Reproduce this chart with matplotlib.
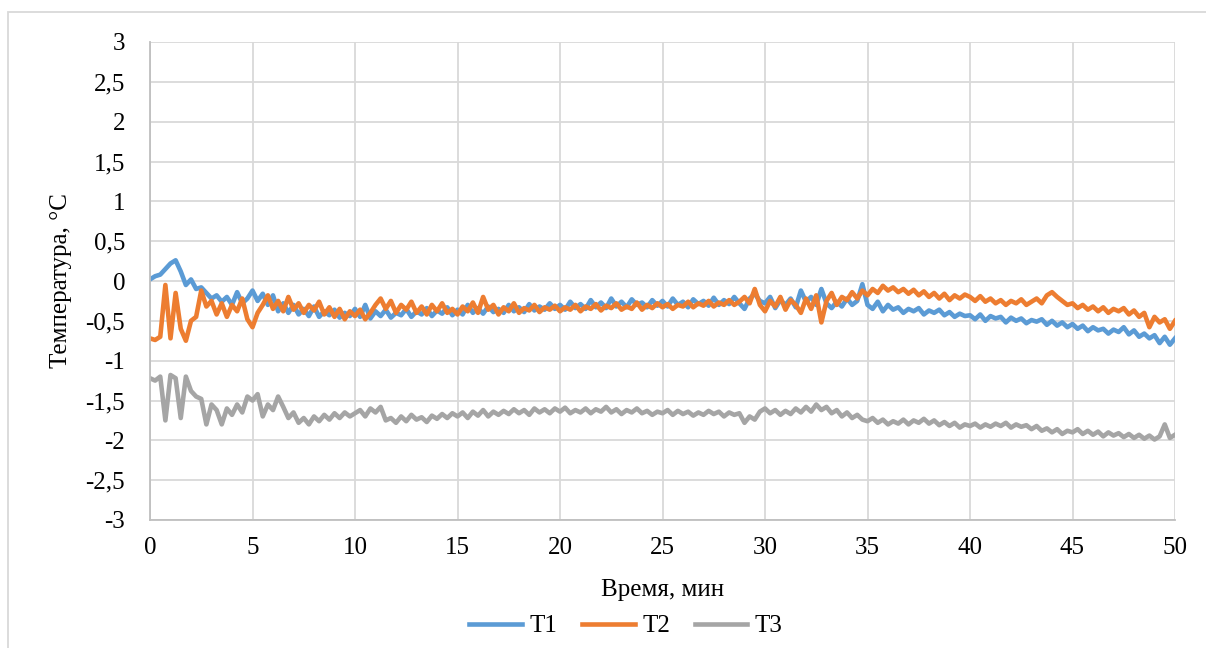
import matplotlib
matplotlib.use("Agg")
import matplotlib.pyplot as plt
import numpy as np
from matplotlib.ticker import FuncFormatter, MultipleLocator
from matplotlib.patches import Rectangle

plt.rcParams['font.family'] = ['Liberation Serif', 'DejaVu Serif']
plt.rcParams['axes.unicode_minus'] = False

time_step = 0.25
time_min = [i * time_step for i in range(201)]

T1 = [0.02, 0.06, 0.08, 0.15, 0.22, 0.26, 0.12, -0.05, 0.02, -0.1, -0.08, -0.15, -0.22, -0.18, -0.26, -0.2, -0.3, -0.14, -0.28, -0.22,
      -0.12, -0.25, -0.16, -0.3, -0.18, -0.38, -0.28, -0.4, -0.3, -0.42, -0.35, -0.44, -0.32, -0.45, -0.38, -0.43, -0.36, -0.46, -0.4, -0.44,
      -0.35, -0.45, -0.3, -0.47, -0.38, -0.44, -0.36, -0.46, -0.4, -0.43, -0.35, -0.45, -0.38, -0.42, -0.34, -0.44, -0.37, -0.41, -0.33, -0.43,
      -0.36, -0.42, -0.3, -0.4, -0.34, -0.41, -0.32, -0.39, -0.35, -0.4, -0.3, -0.38, -0.33, -0.39, -0.29, -0.37, -0.32, -0.36, -0.28, -0.35,
      -0.3, -0.36, -0.26, -0.34, -0.29, -0.35, -0.24, -0.33, -0.27, -0.34, -0.22, -0.32, -0.26, -0.33, -0.23, -0.3, -0.27, -0.33, -0.24, -0.31,
      -0.25, -0.32, -0.22, -0.3, -0.26, -0.33, -0.23, -0.29, -0.25, -0.31, -0.21, -0.3, -0.24, -0.29, -0.2, -0.28, -0.35, -0.22, -0.16, -0.25,
      -0.28, -0.2, -0.34, -0.24, -0.3, -0.22, -0.33, -0.12, -0.26, -0.2, -0.3, -0.1, -0.28, -0.34, -0.26, -0.32, -0.22, -0.3, -0.25, -0.04,
      -0.3, -0.35, -0.26, -0.38, -0.3, -0.36, -0.33, -0.4, -0.35, -0.38, -0.34, -0.42, -0.37, -0.4, -0.36, -0.43, -0.39, -0.45, -0.41, -0.44,
      -0.43, -0.48, -0.42, -0.5, -0.44, -0.47, -0.45, -0.52, -0.46, -0.5, -0.47, -0.53, -0.49, -0.51, -0.48, -0.55, -0.5, -0.56, -0.52, -0.58,
      -0.54, -0.6, -0.56, -0.63, -0.58, -0.62, -0.6, -0.66, -0.61, -0.64, -0.58, -0.67, -0.62, -0.7, -0.66, -0.72, -0.68, -0.78, -0.7, -0.8, -0.72]

T2 = [-0.72, -0.74, -0.7, -0.05, -0.72, -0.15, -0.6, -0.75, -0.5, -0.45, -0.12, -0.32, -0.25, -0.42, -0.28, -0.45, -0.3, -0.38, -0.22, -0.48,
      -0.58, -0.4, -0.3, -0.18, -0.35, -0.25, -0.38, -0.2, -0.36, -0.28, -0.4, -0.3, -0.37, -0.26, -0.42, -0.33, -0.45, -0.35, -0.48, -0.38,
      -0.44, -0.36, -0.48, -0.4, -0.3, -0.22, -0.35, -0.25, -0.4, -0.3, -0.36, -0.26, -0.4, -0.32, -0.42, -0.3, -0.38, -0.28, -0.4, -0.35,
      -0.42, -0.32, -0.38, -0.27, -0.4, -0.2, -0.36, -0.3, -0.42, -0.33, -0.38, -0.28, -0.4, -0.34, -0.37, -0.3, -0.39, -0.33, -0.36, -0.31,
      -0.38, -0.33, -0.36, -0.3, -0.38, -0.32, -0.35, -0.29, -0.37, -0.31, -0.34, -0.28, -0.36, -0.32, -0.35, -0.27, -0.36, -0.3, -0.34, -0.28,
      -0.33, -0.29, -0.35, -0.3, -0.32, -0.26, -0.33, -0.28, -0.31, -0.25, -0.32, -0.27, -0.3, -0.24, -0.3, -0.26, -0.2, -0.28, -0.1, -0.3,
      -0.38, -0.25, -0.32, -0.2, -0.36, -0.24, -0.3, -0.4, -0.22, -0.35, -0.18, -0.52, -0.25, -0.15, -0.3, -0.2, -0.24, -0.14, -0.22, -0.12,
      -0.18, -0.1, -0.15, -0.06, -0.12, -0.08, -0.14, -0.1, -0.16, -0.11, -0.18, -0.13, -0.2, -0.15, -0.22, -0.16, -0.24, -0.18, -0.22, -0.17,
      -0.2, -0.25, -0.19, -0.26, -0.22, -0.28, -0.24, -0.3, -0.25, -0.28, -0.23, -0.3, -0.26, -0.22, -0.28, -0.18, -0.14, -0.2, -0.25, -0.3,
      -0.28, -0.34, -0.3, -0.36, -0.32, -0.38, -0.33, -0.4, -0.35, -0.38, -0.34, -0.42, -0.37, -0.45, -0.4, -0.58, -0.45, -0.52, -0.48, -0.6, -0.5]

T3 = [-1.22, -1.25, -1.2, -1.75, -1.18, -1.22, -1.72, -1.2, -1.38, -1.45, -1.48, -1.8, -1.55, -1.62, -1.8, -1.6, -1.68, -1.55, -1.65, -1.45,
      -1.5, -1.42, -1.7, -1.55, -1.62, -1.45, -1.58, -1.72, -1.65, -1.78, -1.72, -1.8, -1.7, -1.76, -1.68, -1.74, -1.66, -1.72, -1.65, -1.7,
      -1.66, -1.62, -1.7, -1.6, -1.65, -1.58, -1.75, -1.72, -1.78, -1.7, -1.76, -1.68, -1.74, -1.71, -1.77, -1.69, -1.73, -1.67, -1.72, -1.66,
      -1.7, -1.65, -1.72, -1.64, -1.69, -1.62, -1.7, -1.64, -1.68, -1.63, -1.67, -1.61, -1.66, -1.62, -1.68, -1.6, -1.65, -1.61, -1.66, -1.6,
      -1.64, -1.59, -1.66, -1.62, -1.65, -1.6, -1.66, -1.61, -1.64, -1.58, -1.65, -1.61, -1.67, -1.62, -1.65, -1.6, -1.66, -1.63, -1.68, -1.64,
      -1.66, -1.62, -1.68, -1.63, -1.67, -1.64, -1.69, -1.65, -1.68, -1.63, -1.67, -1.64, -1.7, -1.65, -1.68, -1.66, -1.78, -1.7, -1.74, -1.64,
      -1.6, -1.66, -1.62, -1.68, -1.63, -1.67, -1.6, -1.65, -1.58, -1.64, -1.55, -1.62, -1.58, -1.66, -1.62, -1.7, -1.65, -1.72, -1.68, -1.74,
      -1.76, -1.72, -1.78, -1.74, -1.8, -1.76, -1.79, -1.74, -1.8, -1.75, -1.78, -1.73, -1.79, -1.75, -1.81, -1.77, -1.82, -1.78, -1.84, -1.8,
      -1.82, -1.79, -1.84, -1.8, -1.83, -1.79, -1.82, -1.78, -1.84, -1.8, -1.83, -1.81, -1.86, -1.82, -1.88, -1.85, -1.9, -1.86, -1.92, -1.88,
      -1.9, -1.86, -1.92, -1.88, -1.93, -1.89, -1.95, -1.9, -1.94, -1.91, -1.96, -1.92, -1.97, -1.93, -1.98, -1.94, -1.99, -1.95, -1.8, -1.97, -1.93]

series_names = ["T1", "T2", "T3"]
colors = ["#5b9bd5", "#ed7d31", "#a5a5a5"]

W, H = 1206, 648
fig = plt.figure(figsize=(W / 100, H / 100), dpi=100)
ax = fig.add_axes([150 / W, 1 - 520 / H, (1175 - 150) / W, (520 - 42) / H])

for name, vals, c in zip(series_names, [T1, T2, T3], colors):
    ax.plot(time_min, vals, color=c, lw=3.3, label=name, solid_joinstyle='round')

ax.set_xlim(0, 50)
ax.set_ylim(-3, 3)
ax.xaxis.set_major_locator(MultipleLocator(5))
ax.yaxis.set_major_locator(MultipleLocator(0.5))
fmt = FuncFormatter(lambda v, p: ('%g' % v).replace('.', ','))
ax.xaxis.set_major_formatter(fmt)
ax.yaxis.set_major_formatter(fmt)
ax.grid(True, color='#d9d9d9', lw=1.3)
ax.set_axisbelow(True)
for s in ['top', 'right']:
    ax.spines[s].set_visible(False)
for s in ['left', 'bottom']:
    ax.spines[s].set_color('#bfbfbf')
    ax.spines[s].set_linewidth(1.3)
ax.tick_params(length=0, labelsize=18, colors='black')
ax.tick_params(axis='x', pad=12)
ax.tick_params(axis='y', pad=18)

ax.set_xlabel('Время, мин', fontsize=18)
ax.set_ylabel('Температура, °C', fontsize=18)
ax.xaxis.set_label_coords(0.5, (520 - 579) / 478)
ax.yaxis.set_label_coords((72 - 150) / 1025, 0.5)

leg = fig.legend(loc='center', bbox_to_anchor=(626 / W, 1 - 626 / H), ncol=3, frameon=False,
                 fontsize=18, handlelength=2.1, columnspacing=1.0, handletextpad=0.3)

fig.patches.append(Rectangle((8 / W, -0.01), 1.1, 1 - 12 / H + 0.01, transform=fig.transFigure,
                             fill=False, edgecolor='#d9d9d9', lw=1.3))

fig.savefig('out.png', dpi=100, facecolor='white')
